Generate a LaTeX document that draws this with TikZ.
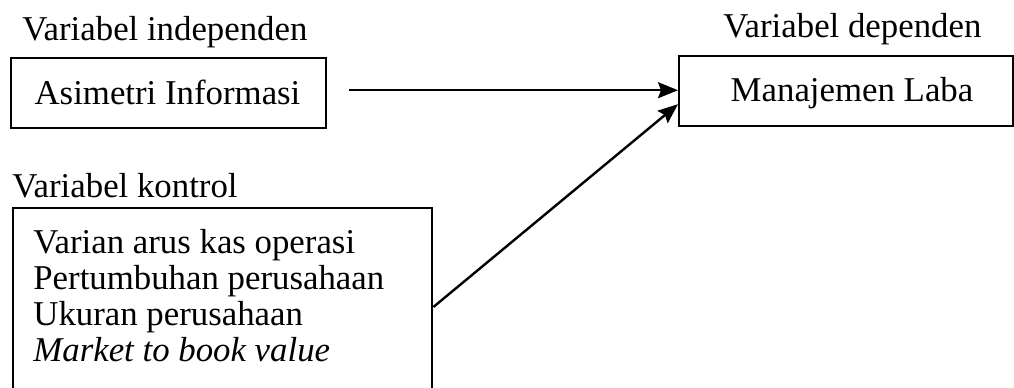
\documentclass[tikz,border=0pt]{standalone}
\usepackage{fontspec}
\setmainfont{Liberation Serif}
\usetikzlibrary{arrows.meta}
\begin{document}
\begin{tikzpicture}[x=0.5pt,y=-0.5pt,
  font=\fontsize{17.4}{18}\selectfont,
  box/.style={draw, line width=1.2pt, inner sep=0pt},
  lbl/.style={anchor=base west, inner sep=0pt},
  conn/.style={line width=1.2pt, -{Stealth[length=10pt,width=8pt,inset=1.5pt]}}]
\useasboundingbox (0,0) rectangle (1014,387);
\clip (0,0) rectangle (1014,387);
% labels
\node[lbl] (lind) at (22,40) {Variabel independen};
\node[lbl] (ldep) at (723,37) {Variabel dependen};
\node[lbl] (lkon) at (12,197) {Variabel kontrol};
% boxes
\node[box, anchor=north west, minimum width=157.5pt, minimum height=35pt] (ai) at (10,57) {};
\node[lbl, anchor=base] (aitxt) at (167.5,104) {Asimetri Informasi};
\node[box, anchor=north west, minimum width=167pt, minimum height=35pt] (ml) at (678,55) {};
\node[lbl, anchor=base] (mltxt) at (852,101) {Manajemen Laba};
\node[box, anchor=north west, minimum width=209.5pt, minimum height=110pt] (ctrl) at (12,207) {};
\node[anchor=north west, align=left, inner sep=0pt] (ctrltxt) at (33,229) {Varian arus kas operasi\\Pertumbuhan perusahaan\\Ukuran perusahaan\\\textit{Market to book value}};
% connectors
\coordinate (astart) at ([xshift=11pt,yshift=1.5pt]ai.east);
\coordinate (aend) at ([yshift=0.5pt]ml.west);
\draw[conn] (astart) -- (aend);
\coordinate (cstart) at ([yshift=-50pt]ctrl.north east);
\coordinate (cend) at ([yshift=-6.5pt]ml.west);
\draw[conn] (cstart) -- (cend);
\end{tikzpicture}
\end{document}
